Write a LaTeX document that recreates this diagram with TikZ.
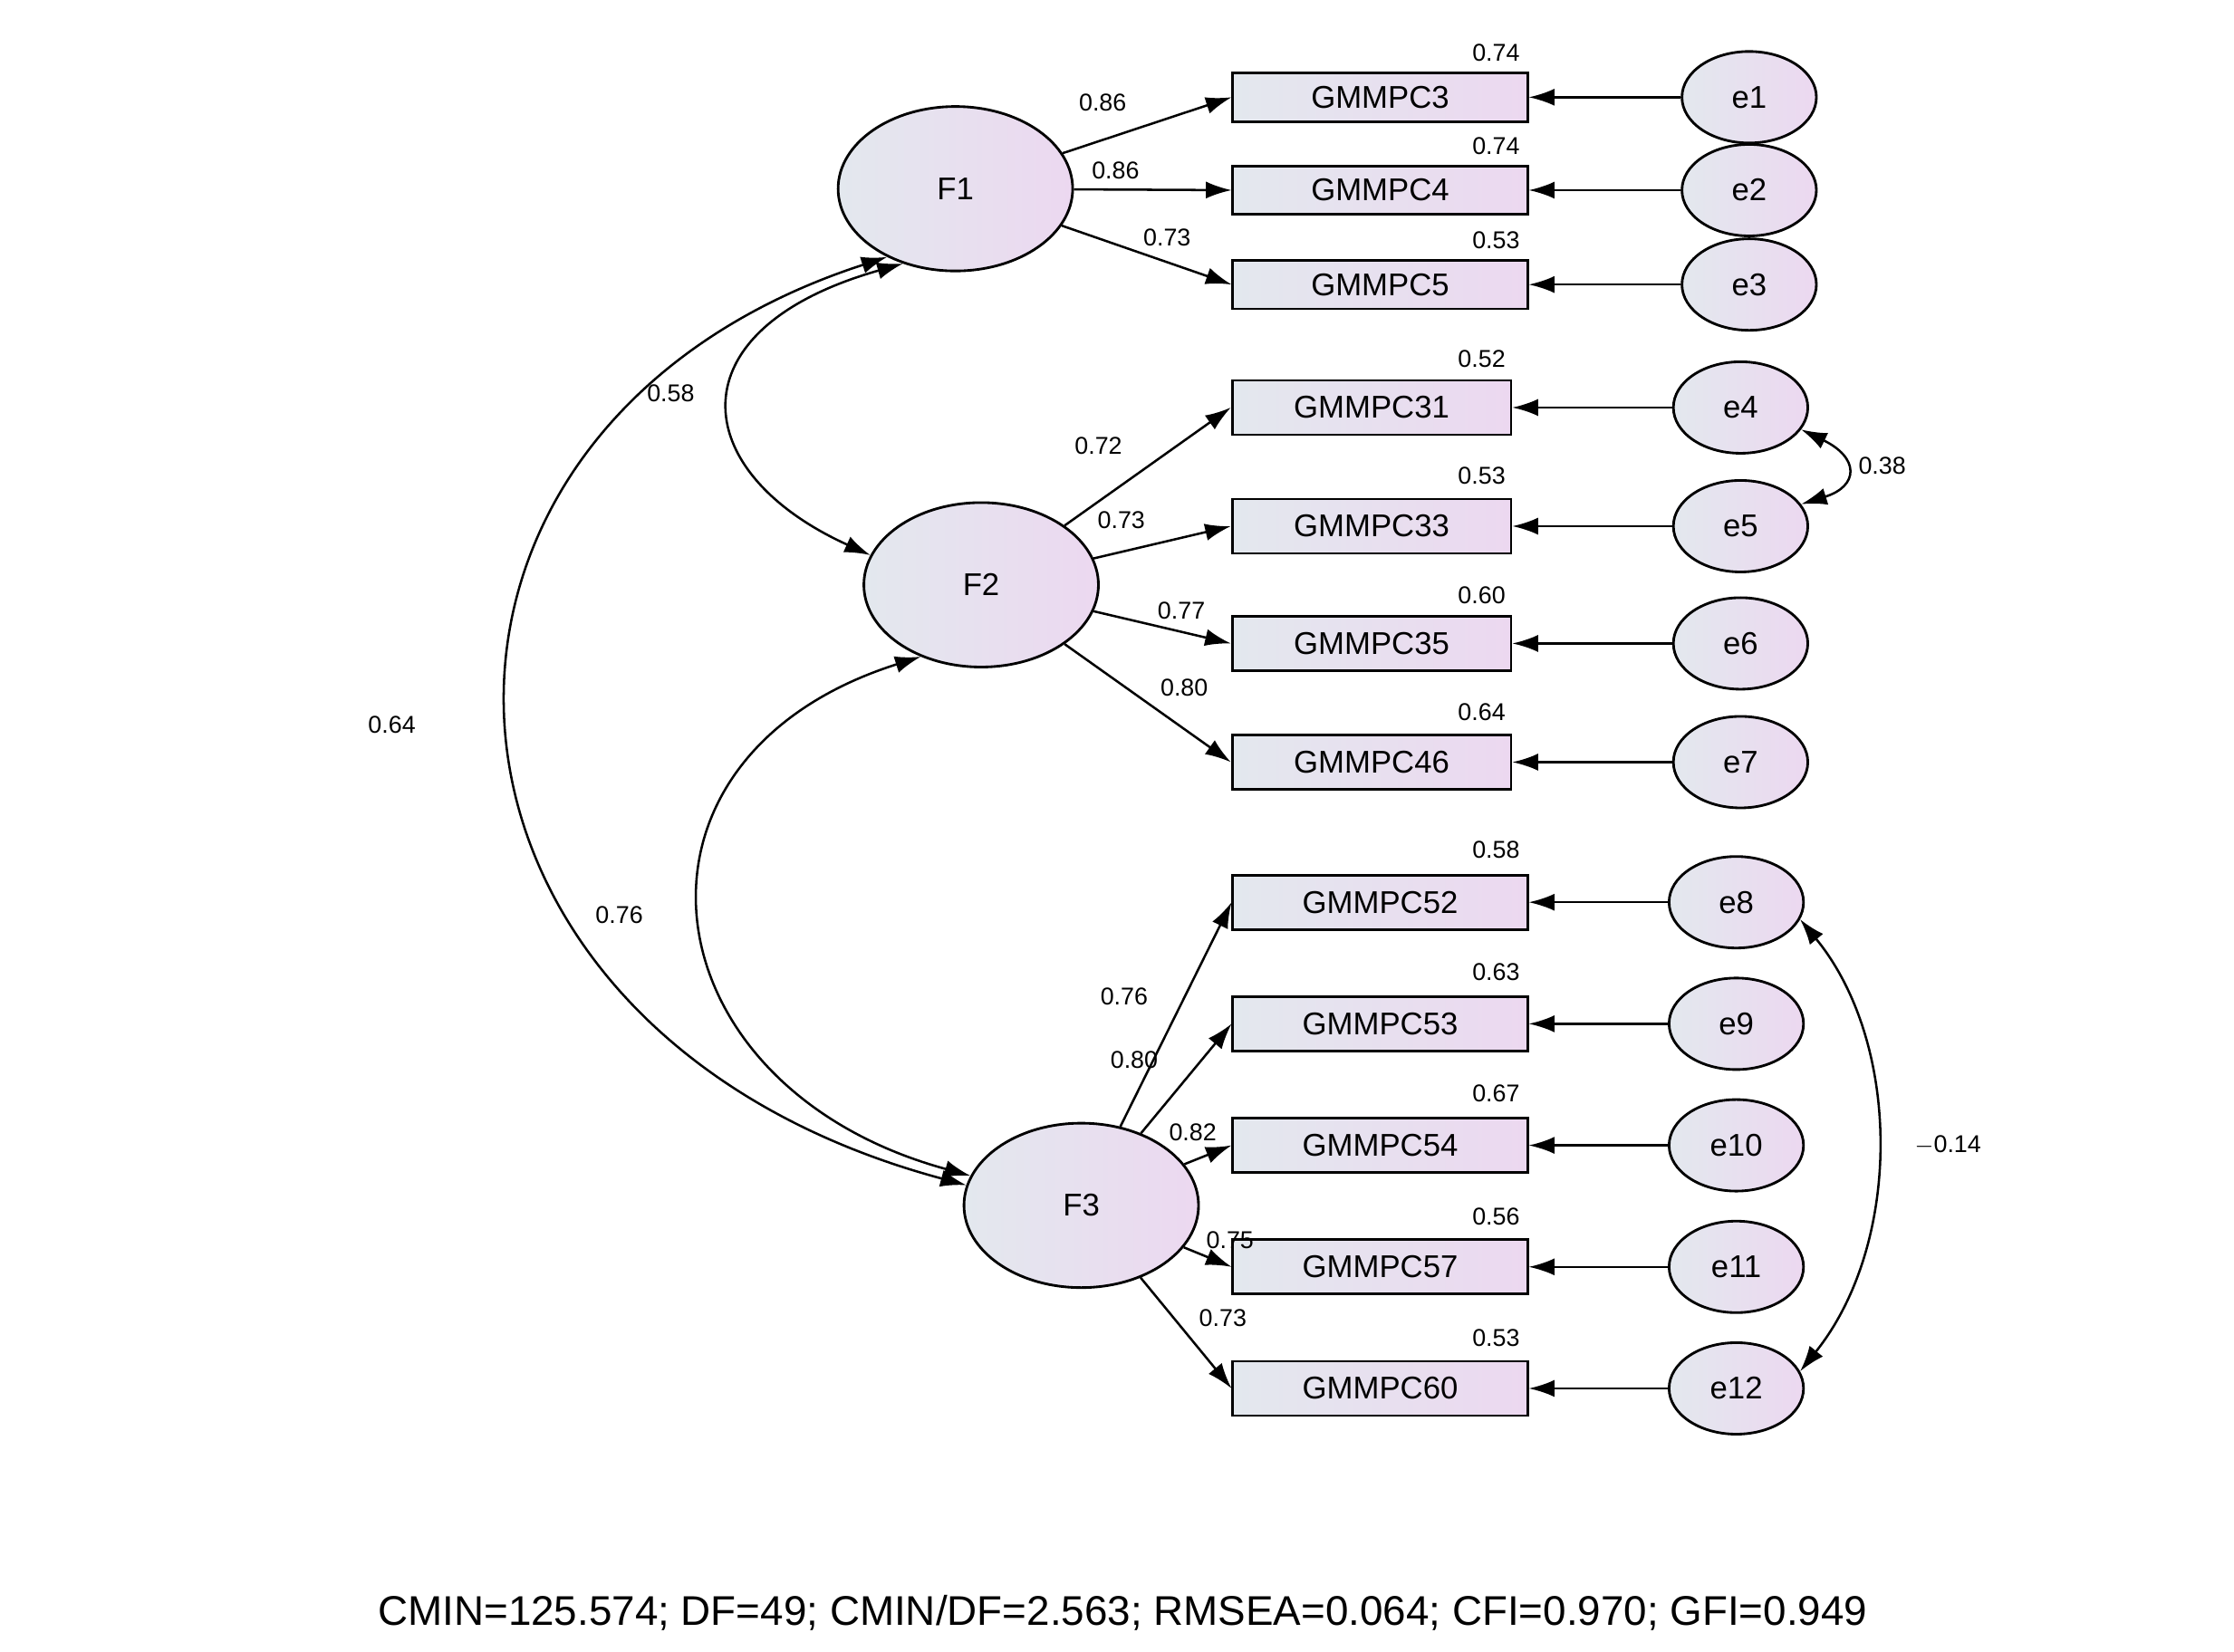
\documentclass[tikz,border=0pt]{standalone}
\usepackage{fontspec}
\setmainfont{Liberation Sans}
\usetikzlibrary{arrows.meta,shapes.geometric}
\begin{document}
\begin{tikzpicture}[x=0.5pt,y=-0.5pt,
 grad/.style={draw=black,line width=0.9pt,left color=gE,right color=gP},
 lat/.style={grad,ellipse,minimum width=82pt,minimum height=57.5pt,font=\fontsize{11}{13}\selectfont},
 err/.style={grad,ellipse,minimum width=47pt,minimum height=32pt,font=\fontsize{11}{13}\selectfont},
 box/.style={grad,rectangle,minimum width=103pt,minimum height=17pt,inner sep=0pt,font=\fontsize{11}{13}\selectfont},
 boxb/.style={box,minimum width=97.5pt,minimum height=19pt},
 lab/.style={inner sep=0pt,font=\fontsize{8.5}{10}\selectfont},
 arr/.style={-{Latex[length=9pt,width=6pt]},line width=0.8pt},
 dar/.style={{Latex[length=9pt,width=6pt]}-{Latex[length=9pt,width=6pt]},line width=0.8pt}]
\definecolor{gE}{HTML}{E3E8EE}
\definecolor{gP}{HTML}{ECD8F0}
\useasboundingbox (0,0) rectangle (1562,1155);
\fill[white] (0,0) rectangle (1562,1155);
\node[lat] (F1) at (668,132) {F1};
\node[lat] (F2) at (686,409) {F2};
\node[lat] (F3) at (756,843) {F3};
\foreach \n/\y/\r/\yy/\l/\lx/\ly in {3/68/0.74/37/0.86/771/72, 4/133/0.74/102/0.86/780/119, 5/199/0.53/168/0.73/816/166}{
 \node[box] (b\n) at (965,\y) {GMMPC\n};
 \node[lab] (r\n) at (1046,\yy) {\r};
 \node[lab] (l\n) at (\lx,\ly) {\l};
 \draw[arr] (F1) -- (b\n.west);}
\foreach \n/\y/\r/\yy/\l/\lx/\ly in {31/285/0.52/251/0.72/768/312, 33/368/0.53/333/0.73/784/364, 35/450/0.60/416/0.77/826/427, 46/533/0.64/498/0.80/828/481}{
 \node[boxb] (b\n) at (959,\y) {GMMPC\n};
 \node[lab] (r\n) at (1036,\yy) {\r};
 \node[lab] (l\n) at (\lx,\ly) {\l};
 \draw[arr] (F2) -- (b\n.west);}
\foreach \n/\y/\r/\yy/\l/\lx/\ly in {52/631/0.58/594/0.76/786/697, 53/716/0.63/680/0.80/793/741, 54/801/0.67/765/0.82/834/792, 57/886/0.56/851/0.75/860/867, 60/971/0.53/936/0.73/855/922}{
 \node[boxb,minimum width=103pt] (b\n) at (965,\y) {GMMPC\n};
 \node[lab] (r\n) at (1046,\yy) {\r};
 \node[lab] (l\n) at (\lx,\ly) {\l};
 \draw[arr] (F3) -- (b\n.west);}
\foreach \e/\x/\y/\b in {1/1223/68/3, 2/1223/133/4, 3/1223/199/5, 4/1217/285/31, 5/1217/368/33, 6/1217/450/35, 7/1217/533/46, 8/1214/631/52, 9/1214/716/53, 10/1214/801/54, 11/1214/886/57, 12/1214/971/60}{
 \node[err] (e\e) at (\x,\y) {e\e};
 \draw[arr] (e\e) -- (b\b.east);}
\draw[dar] (F1.235) .. controls (470,230) and (480,330) .. (F2.165);
\draw[dar] (F1.225) .. controls (250,300) and (270,720) .. (F3.170);
\draw[dar] (F2.230) .. controls (420,530) and (450,760) .. (F3.165);
\draw[dar] (e4.-20) .. controls (1300,320) and (1300,340) .. (e5.20);
\draw[dar] (e8.-15) .. controls (1330,730) and (1330,870) .. (e12.15);
\node[lab] (c12) at (469,275) {0.58};
\node[lab] (c13) at (274,507) {0.64};
\node[lab] (c23) at (433,640) {0.76};
\node[lab] (c45) at (1316,326) {0.38};
\node[lab] (c812) at (1362,801) {$-$0.14};
\node[inner sep=0pt,font=\fontsize{14.5}{17}\selectfont] (fit) at (785,1128) {CMIN=125.574; DF=49; CMIN/DF=2.563; RMSEA=0.064; CFI=0.970; GFI=0.949};
\end{tikzpicture}
\end{document}
